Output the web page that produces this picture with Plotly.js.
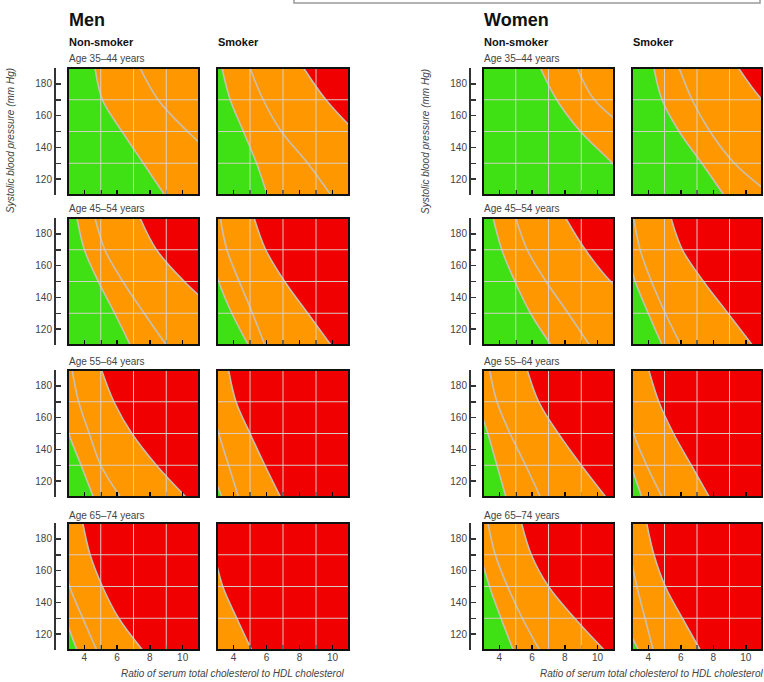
<!DOCTYPE html>
<html><head><meta charset="utf-8">
<script src="https://cdn.plot.ly/plotly-3.0.1.min.js"></script>
<style>html,body{margin:0;padding:0;background:#fff}#chart{width:764px;height:682px}</style>
</head><body><div id="chart"></div>
<script>
// ---- data (x = cholesterol ratio at each systolic level) ----
const sbpLevels = [190, 170, 150, 130, 110];
const ageGroups = ['Age 35–44 years', 'Age 45–54 years', 'Age 55–64 years', 'Age 65–74 years'];
const sexLabels = ['Men', 'Women'];
const smokeLabels = ['Non-smoker', 'Smoker'];
const xTickVals = [4, 6, 8, 10];
const yTickVals = [120, 140, 160, 180];
const xGridVals = [5, 7, 9];
const yGridVals = [130, 150, 170];
const xRange = [3, 11];
const yRange = [110, 190];

// rows: ages 35-44, 45-54, 55-64, 65-74 ; null = boundary not present
const menNonSmokerGreen = [[4.65,5.1,6.3,7.6,8.9],[3.55,4.0,4.85,5.85,6.8],[2.3,2.6,3.05,3.8,4.55],[1.7,1.95,2.35,2.85,3.55]];
const menNonSmokerMid   = [[7.4,8.5,10.3,12.4,14.3],[4.65,5.25,6.35,7.65,9.0],[3.25,3.65,4.3,5.0,6.2],[2.3,2.6,3.1,3.9,4.75]];
const menNonSmokerRed   = [null,[7.4,8.4,10.1,12.2,14.3],[5.05,5.8,6.9,8.4,10.2],[3.9,4.35,5.1,6.1,7.55]];

const menSmokerGreen = [[3.3,3.8,4.6,5.4,6.05],[2.2,2.55,3.1,3.9,4.9],[1.55,1.75,2.1,2.55,3.3],null];
const menSmokerMid   = [[5.0,5.8,6.9,8.5,9.9],[3.2,3.6,4.35,5.15,5.9],[2.25,2.55,3.1,3.7,4.3],null];
const menSmokerRed   = [[8.25,9.6,11.4,13.6,15.9],[5.25,5.95,7.1,8.5,9.9],[3.7,4.15,5.0,5.9,6.85],[2.5,2.85,3.35,4.2,5.1]];

const womenNonSmokerGreen = [[6.5,7.5,8.95,10.9,12.6],[3.62,4.15,4.95,5.9,7.15],[2.4,2.7,3.3,3.85,4.4],[2.5,2.85,3.4,4.1,4.85]];
const womenNonSmokerMid   = [[8.75,9.8,12.0,14.4,16.8],[5.0,5.7,6.85,8.2,9.5],[3.4,3.85,4.65,5.6,6.5],[3.3,3.75,4.5,5.4,6.45]];
const womenNonSmokerRed   = [null,[8.05,9.25,10.8,13.1,15.4],[5.7,6.4,7.6,9.0,10.5],[5.35,5.95,7.0,8.6,10.4]];

const womenSmokerGreen = [[4.35,4.85,5.9,7.3,8.65],[2.3,2.65,3.2,4.0,4.85],[1.75,2.0,2.45,2.95,3.6],[1.5,1.7,2.05,2.5,3.4]];
const womenSmokerMid   = [[5.9,6.7,7.8,9.3,11.6],[3.1,3.5,4.2,5.05,6.0],[2.35,2.65,3.1,3.9,4.85],[2.6,2.9,3.3,3.8,4.3]];
const womenSmokerRed   = [[9.55,11.0,13.1,15.8,18.4],[5.4,6.1,7.4,8.9,10.4],[4.03,4.65,5.55,6.65,7.75],[3.9,4.35,5.05,6.1,7.2]];

// ---- styling / layout ----
const W = 764, H = 682;
const GREEN = '#3fe014', ORANGE = '#ff9800', RED = '#f00000';
const CURVE = '#c9bfb0', GRID = 'rgba(215,210,205,0.95)';
const FONT = 'Liberation Sans, Arial, sans-serif';
const NARROW = 'Liberation Sans Narrow, Arial Narrow, Liberation Sans, sans-serif';
const colPx = [[68,199],[217,349],[483,614],[632,762]];
const rowPx = [[68,195],[218,345],[370,497],[523,650]];
const yAxisLinePx = [54, null, 469, null];
const px = v => v / W, py = v => 1 - v / H;

const columns = [
  {green: menNonSmokerGreen, mid: menNonSmokerMid, red: menNonSmokerRed},
  {green: menSmokerGreen, mid: menSmokerMid, red: menSmokerRed},
  {green: womenNonSmokerGreen, mid: womenNonSmokerMid, red: womenNonSmokerRed},
  {green: womenSmokerGreen, mid: womenSmokerMid, red: womenSmokerRed}
];

const data = [], shapes = [], annotations = [];
const layout = {
  width: W, height: H, margin: {l:0, r:0, t:0, b:0},
  paper_bgcolor: '#fff', plot_bgcolor: RED, showlegend: false,
  font: {family: FONT, size: 10, color: '#444'}
};

for (let r = 0; r < 4; r++) {
  for (let c = 0; c < 4; c++) {
    const idx = r * 4 + c + 1;
    const xa = 'x' + (idx === 1 ? '' : idx), ya = 'y' + (idx === 1 ? '' : idx);
    const xKey = 'xaxis' + (idx === 1 ? '' : idx), yKey = 'yaxis' + (idx === 1 ? '' : idx);
    const col = columns[c];
    const lineSpec = {shape: 'spline', smoothing: 1, color: CURVE, width: 1.6};

    if (col.red[r]) {
      data.push({type:'scatter', mode:'lines', x: col.red[r], y: sbpLevels, xaxis: xa, yaxis: ya,
        line: lineSpec, fill: 'tozerox', fillcolor: ORANGE, hoverinfo: 'skip'});
    } else {
      data.push({type:'scatter', mode:'lines', x: [xRange[0], xRange[1], xRange[1], xRange[0]],
        y: [yRange[0], yRange[0], yRange[1], yRange[1]], xaxis: xa, yaxis: ya,
        line: {width: 0}, fill: 'toself', fillcolor: ORANGE, hoverinfo: 'skip'});
    }
    if (col.green[r]) {
      data.push({type:'scatter', mode:'lines', x: col.green[r], y: sbpLevels, xaxis: xa, yaxis: ya,
        line: lineSpec, fill: 'tozerox', fillcolor: GREEN, hoverinfo: 'skip'});
    }
    if (col.mid[r]) {
      data.push({type:'scatter', mode:'lines', x: col.mid[r], y: sbpLevels, xaxis: xa, yaxis: ya,
        line: lineSpec, hoverinfo: 'skip'});
    }

    layout[xKey] = {
      domain: [px(colPx[c][0]), px(colPx[c][1])], range: xRange, anchor: ya,
      showgrid: false, zeroline: false, showline: false,
      tickmode: 'array', tickvals: xTickVals,
      ticks: 'inside', ticklen: 5, tickwidth: 1.5, tickcolor: '#000',
      minor: {dtick: 1, tick0: 3, ticks: 'inside', ticklen: 5, tickwidth: 1.5, tickcolor: '#000'},
      showticklabels: r === 3, tickfont: {family: FONT, size: 10, color: '#444'}, fixedrange: true
    };
    if (yAxisLinePx[c] !== null) {
      layout[yKey] = {
        domain: [py(rowPx[r][1]), py(rowPx[r][0])], range: yRange,
        anchor: 'free', position: px(yAxisLinePx[c]), side: 'left',
        showgrid: false, zeroline: false, showline: true, linecolor: '#333', linewidth: 1.5,
        tickmode: 'array', tickvals: yTickVals,
        ticks: 'inside', ticklen: 5, tickwidth: 1.5, tickcolor: '#333',
        minor: {dtick: 10, tick0: 110, ticks: 'inside', ticklen: 5, tickwidth: 1.5, tickcolor: '#333'},
        tickfont: {family: FONT, size: 10, color: '#444'}, fixedrange: true
      };
    } else {
      layout[yKey] = {
        domain: [py(rowPx[r][1]), py(rowPx[r][0])], range: yRange, anchor: xa,
        showgrid: false, zeroline: false, showline: false, ticks: '', showticklabels: false, fixedrange: true
      };
    }

    xGridVals.forEach(g => shapes.push({type:'line', xref: xa, yref: ya + ' domain', x0: g, x1: g, y0: 0, y1: 1,
      line: {color: GRID, width: 1}, layer: 'above'}));
    yGridVals.forEach(g => shapes.push({type:'line', xref: xa + ' domain', yref: ya, x0: 0, x1: 1, y0: g, y1: g,
      line: {color: GRID, width: 1}, layer: 'above'}));
    shapes.push({type:'rect', xref: xa + ' domain', yref: ya + ' domain', x0: 0, x1: 1, y0: 0, y1: 1,
      line: {color: '#111', width: 2}, layer: 'above'});
  }
}

shapes.push({type:'rect', xref:'paper', yref:'paper', x0: px(294), x1: px(760), y0: py(3), y1: py(-20),
  line: {color: '#999', width: 1.5}, fillcolor: 'rgba(0,0,0,0)'});

const ageY = [58, 209, 361, 515];
[0, 1].forEach(s => {
  const left = colPx[s * 2][0];
  annotations.push({xref:'paper', yref:'paper', x: px(left - 1), y: py(20), xanchor:'left', yanchor:'middle',
    text: '<b>' + sexLabels[s] + '</b>', showarrow: false, font: {family: NARROW, size: 18, color: '#111'}});
  [0, 1].forEach(k => annotations.push({xref:'paper', yref:'paper', x: px(colPx[s * 2 + k][0] - 1), y: py(42),
    xanchor:'left', yanchor:'middle', text: '<b>' + smokeLabels[k] + '</b>', showarrow: false,
    font: {family: NARROW, size: 11, color: '#111'}}));
  ageGroups.forEach((a, r) => annotations.push({xref:'paper', yref:'paper', x: px(left - 1), y: py(ageY[r]),
    xanchor:'left', yanchor:'middle', text: a, showarrow: false, font: {family: NARROW, size: 10, color: '#444'}}));
  annotations.push({xref:'paper', yref:'paper', x: px(s === 0 ? 10 : 425), y: py(141), textangle: -90,
    xanchor:'center', yanchor:'middle', text: '<i>Systolic blood pressure (mm Hg)</i>', showarrow: false,
    font: {family: FONT, size: 10, color: '#444'}});
  annotations.push({xref:'paper', yref:'paper', x: px(s === 0 ? 232 : 651), y: py(673),
    xanchor:'center', yanchor:'middle', text: '<i>Ratio of serum total cholesterol to HDL cholesterol</i>',
    showarrow: false, font: {family: FONT, size: 10, color: '#444'}});
});

layout.shapes = shapes;
layout.annotations = annotations;
Plotly.newPlot('chart', data, layout, {staticPlot: true, displayModeBar: false});
</script>
</body></html>
